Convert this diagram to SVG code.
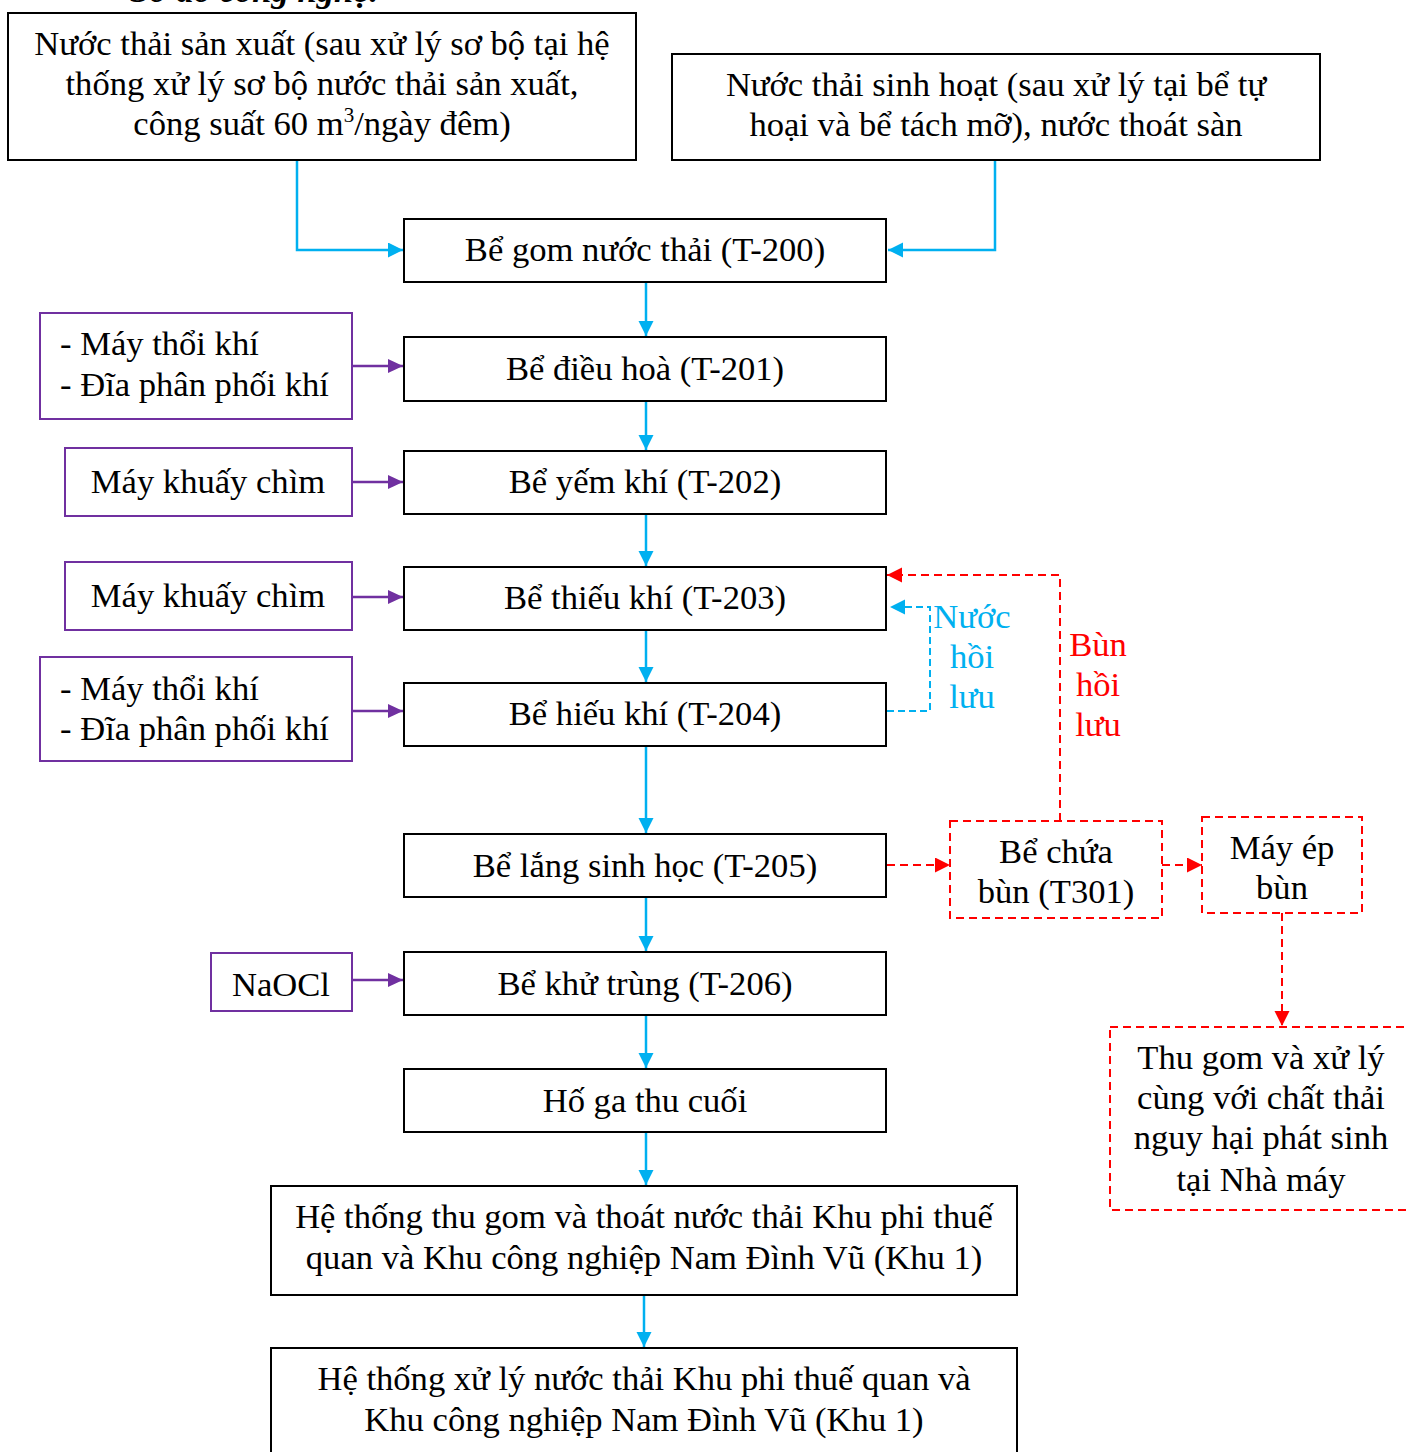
<svg xmlns="http://www.w3.org/2000/svg" width="1408" height="1452" viewBox="0 0 1408 1452">
<style>
text{font-family:"Liberation Serif","Times New Roman",serif;font-size:34.6px;fill:#000}
.c{text-anchor:middle}
.box{fill:#fff;stroke:#000;stroke-width:2}
.pbox{fill:#fff;stroke:#7030A0;stroke-width:2}
.rbox{fill:#fff;stroke:#FF0000;stroke-width:2;stroke-dasharray:8 5}
.blue{fill:none;stroke:#00B0F0;stroke-width:2.5}
.purple{fill:none;stroke:#7030A0;stroke-width:2.5}
.red{fill:none;stroke:#FF0000;stroke-width:2;stroke-dasharray:8 5}
.cyd{fill:none;stroke:#00B0F0;stroke-width:2;stroke-dasharray:7 4}
.tb{fill:#00B0F0}
.tr{fill:#FF0000}
</style>
<defs>
<marker id="ab" markerUnits="userSpaceOnUse" markerWidth="16" markerHeight="16" refX="15" refY="7.5" orient="auto"><path d="M0,0 L15,7.5 L0,15 z" fill="#00B0F0"/></marker>
<marker id="ap" markerUnits="userSpaceOnUse" markerWidth="16" markerHeight="16" refX="15" refY="7" orient="auto"><path d="M0,0 L15,7 L0,14 z" fill="#7030A0"/></marker>
<marker id="ar" markerUnits="userSpaceOnUse" markerWidth="16" markerHeight="16" refX="15" refY="7.5" orient="auto"><path d="M0,0 L15,7.5 L0,15 z" fill="#FF0000"/></marker>
</defs>

<text x="130" y="2" style="font-weight:bold;font-style:italic">Sơ đồ công nghệ:</text>

<g id="connectors">
<path class="blue" d="M297,160 V250 H403" marker-end="url(#ab)"/>
<path class="blue" d="M995,160 V250 H888" marker-end="url(#ab)"/>
<path class="blue" d="M646,282 V336" marker-end="url(#ab)"/>
<path class="blue" d="M646,401 V450" marker-end="url(#ab)"/>
<path class="blue" d="M646,514 V566" marker-end="url(#ab)"/>
<path class="blue" d="M646,630 V682" marker-end="url(#ab)"/>
<path class="blue" d="M646,746 V833" marker-end="url(#ab)"/>
<path class="blue" d="M646,897 V951" marker-end="url(#ab)"/>
<path class="blue" d="M646,1015 V1068" marker-end="url(#ab)"/>
<path class="blue" d="M646,1132 V1185" marker-end="url(#ab)"/>
<path class="blue" d="M644,1295 V1347" marker-end="url(#ab)"/>
<path class="purple" d="M352,366 H403" marker-end="url(#ap)"/>
<path class="purple" d="M352,482 H403" marker-end="url(#ap)"/>
<path class="purple" d="M352,597 H403" marker-end="url(#ap)"/>
<path class="purple" d="M352,711 H403" marker-end="url(#ap)"/>
<path class="purple" d="M352,980 H403" marker-end="url(#ap)"/>
<path class="cyd" d="M887,711 H930 V607 H890" marker-end="url(#ab)"/>
<path class="red" d="M1060,821 V575 H887" marker-end="url(#ar)"/>
<path class="red" d="M887,865 H950" marker-end="url(#ar)"/>
<path class="red" d="M1162,865 H1202" marker-end="url(#ar)"/>
<path class="red" d="M1282,913 V1026" marker-end="url(#ar)"/>
<text class="c tb" x="972" y="628">Nước</text>
<text class="c tb" x="972" y="668">hồi</text>
<text class="c tb" x="972" y="708">lưu</text>
<text class="c tr" x="1098" y="656">Bùn</text>
<text class="c tr" x="1098" y="696">hồi</text>
<text class="c tr" x="1098" y="736">lưu</text>
</g>

<g id="n1"><rect class="box" x="8" y="13" width="628" height="147"/>
<text class="c" x="322" y="55">Nước thải sản xuất (sau xử lý sơ bộ tại hệ</text>
<text class="c" x="322" y="95">thống xử lý sơ bộ nước thải sản xuất,</text>
<text class="c" x="322" y="135">công suất 60 m<tspan dy="-13" style="font-size:21px">3</tspan><tspan dy="13">/ngày đêm)</tspan></text></g>

<g id="n2"><rect class="box" x="672" y="54" width="648" height="106"/>
<text class="c" x="996" y="96">Nước thải sinh hoạt (sau xử lý tại bể tự</text>
<text class="c" x="996" y="136">hoại và bể tách mỡ), nước thoát sàn</text></g>

<g id="n3"><rect class="box" x="404" y="219" width="482" height="63"/><text class="c" x="645" y="261">Bể gom nước thải (T-200)</text></g>
<g id="n4"><rect class="box" x="404" y="337" width="482" height="64"/><text class="c" x="645" y="380">Bể điều hoà (T-201)</text></g>
<g id="n5"><rect class="box" x="404" y="451" width="482" height="63"/><text class="c" x="645" y="493">Bể yếm khí (T-202)</text></g>
<g id="n6"><rect class="box" x="404" y="567" width="482" height="63"/><text class="c" x="645" y="609">Bể thiếu khí (T-203)</text></g>
<g id="n7"><rect class="box" x="404" y="683" width="482" height="63"/><text class="c" x="645" y="725">Bể hiếu khí (T-204)</text></g>
<g id="n8"><rect class="box" x="404" y="834" width="482" height="63"/><text class="c" x="645" y="877">Bể lắng sinh học (T-205)</text></g>
<g id="n9"><rect class="box" x="404" y="952" width="482" height="63"/><text class="c" x="645" y="995">Bể khử trùng (T-206)</text></g>
<g id="n10"><rect class="box" x="404" y="1069" width="482" height="63"/><text class="c" x="645" y="1112">Hố ga thu cuối</text></g>
<g id="n11"><rect class="box" x="271" y="1186" width="746" height="109"/>
<text class="c" x="644" y="1228">Hệ thống thu gom và thoát nước thải Khu phi thuế</text>
<text class="c" x="644" y="1269">quan và Khu công nghiệp Nam Đình Vũ (Khu 1)</text></g>
<g id="n12"><rect class="box" x="271" y="1348" width="746" height="110"/>
<text class="c" x="644" y="1390">Hệ thống xử lý nước thải Khu phi thuế quan và</text>
<text class="c" x="644" y="1431">Khu công nghiệp Nam Đình Vũ (Khu 1)</text></g>

<g id="p1"><rect class="pbox" x="40" y="313" width="312" height="106"/>
<text x="60" y="355">- Máy thổi khí</text><text x="60" y="396">- Đĩa phân phối khí</text></g>
<g id="p2"><rect class="pbox" x="65" y="448" width="287" height="68"/><text class="c" x="208" y="493">Máy khuấy chìm</text></g>
<g id="p3"><rect class="pbox" x="65" y="562" width="287" height="68"/><text class="c" x="208" y="607">Máy khuấy chìm</text></g>
<g id="p4"><rect class="pbox" x="40" y="657" width="312" height="104"/>
<text x="60" y="700">- Máy thổi khí</text><text x="60" y="740">- Đĩa phân phối khí</text></g>
<g id="p5"><rect class="pbox" x="211" y="953" width="141" height="58"/><text class="c" x="281" y="996">NaOCl</text></g>

<g id="r1"><rect class="rbox" x="950" y="821" width="212" height="97"/>
<text class="c" x="1056" y="863">Bể chứa</text><text class="c" x="1056" y="903">bùn (T301)</text></g>
<g id="r2"><rect class="rbox" x="1202" y="817" width="160" height="96"/>
<text class="c" x="1282" y="859">Máy ép</text><text class="c" x="1282" y="899">bùn</text></g>
<g id="r3"><rect class="rbox" x="1110" y="1027" width="310" height="183"/>
<text class="c" x="1261" y="1069">Thu gom và xử lý</text>
<text class="c" x="1261" y="1109">cùng với chất thải</text>
<text class="c" x="1261" y="1149">nguy hại phát sinh</text>
<text class="c" x="1261" y="1191">tại Nhà máy</text></g>
</svg>
